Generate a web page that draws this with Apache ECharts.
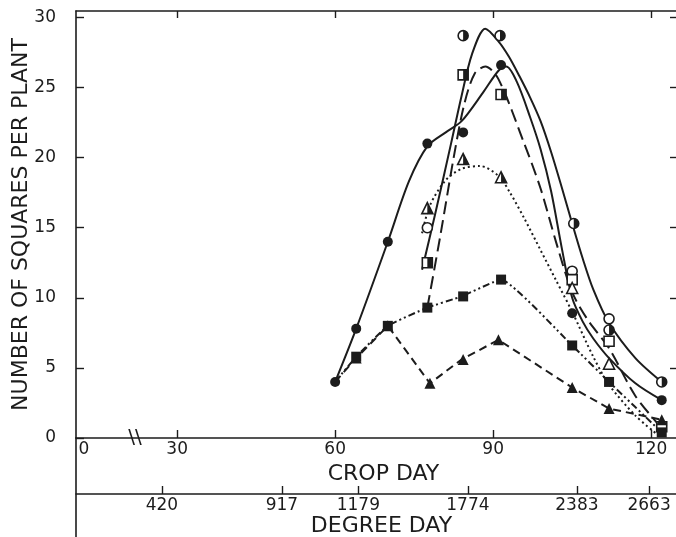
<!DOCTYPE html>
<html><head><meta charset="utf-8">
<script src="https://cdn.jsdelivr.net/npm/echarts@6/dist/echarts.min.js"></script>
<style>html,body{margin:0;padding:0;background:#fff}#c{width:676px;height:537px}</style>
</head><body><div id="c"></div>
<script>
// ---------- axes / ticks ----------
const X_MIN = 10.8, X_MAX = 124.9;      // crop-day display range (axis broken below 30)
const Y_MAX = 30.46;
const yTicks = [0, 5, 10, 15, 20, 25, 30];
const yRightTicks = [5, 10, 15, 20, 25, 30];
const cropTickPos = [30, 60, 90, 120];
const cropLabelPos = [12.3, 30, 60, 90, 120];
const cropLabelText = ['0', '30', '60', '90', '120'];
const breakPos = 22;
const degreeDayPos = [27.1, 49.9, 64.4, 85.2, 105.9, 119.6];
const degreeDayText = ['420', '917', '1179', '1774', '2383', '2663'];

// ---------- fitted curves ----------
const curveFilledCircle = [[60,4.0],[64,7.8],[70,14.0],[74,18.3],[77.5,20.8],[81,21.8],[84,22.6],[88,24.6],[91,26.2],[92.5,26.5],[94.5,25.4],[97,22.9],[99,20.6],[101,17.6],[103,13.6],[105,10.0],[107,8.3],[109,7.1],[112,5.7],[117,3.9],[122,2.7]];
const curveHalfCircle = [[76.5,12.0],[79,16.0],[82,21.0],[84,24.4],[86,27.4],[88.5,29.2],[91,28.3],[93,27.2],[95,25.8],[97,24.3],[99,22.6],[101,20.4],[103,17.9],[105,15.3],[107,12.8],[109,10.6],[112,8.2],[117,5.7],[122,4.0]];
const curveHalfSquare = [[77.5,9.3],[80,14.5],[82.5,20.0],[84.5,23.8],[86.5,26.0],[88.5,26.5],[91,25.6],[95.7,21.2],[99,17.8],[102,13.9],[105,10.4],[108,8.4],[112,6.4],[117,3.0],[122,0.7]];
const curveHalfTriangle = [[76.5,14.6],[78,16.6],[81,18.4],[84,19.2],[87.5,19.4],[91,18.7],[93.2,17.5],[96,15.6],[99,13.4],[102,11.2],[105,9.0],[109,5.8],[112,3.8],[117,1.6],[121,0.3]];
const lineFilledSquare = [[60,4.0],[64,5.8],[70,8.0],[77.5,9.3],[84,10.1],[91.5,11.3],[105,6.6],[112,4.0],[122,0.4]];
const lineFilledTriangle = [[60,4.0],[64,5.7],[70,8.0],[78,3.9],[84,5.6],[91,7.0],[105,3.6],[112,2.1],[122,1.3]];

// ---------- observed points ----------
const ptFilledCircle = [[60,4.0],[64,7.8],[70,14.0],[77.5,21.0],[84.3,21.8],[91.5,26.6],[105,8.9],[122,2.7]];
const ptHalfCircle = [[84.3,28.7],[91.3,28.7],[105.3,15.3],[112,7.7],[122,4.0]];
const ptHalfSquare = [[77.5,12.5],[84.3,25.9],[91.5,24.5]];
const ptHalfTriangle = [[77.5,16.4],[84.3,19.9],[91.5,18.6]];
const ptOpenCircle = [[77.5,15.0],[105,11.9],[112,8.5]];
const ptOpenSquare = [[105,11.3],[112,6.9],[122,0.8]];
const ptOpenTriangle = [[105,10.7],[112,5.3]];
const ptFilledSquare = [[64,5.8],[70,8.0],[77.5,9.3],[84.3,10.1],[91.5,11.3],[105,6.6],[112,4.0],[122,0.4]];
const ptFilledTriangle = [[64,5.7],[70,8.0],[78,3.9],[84.3,5.6],[91,7.0],[105,3.6],[112,2.1],[122,1.3]];

const ink = '#1c1c1c';
const FONT = 'DejaVu Sans';
const HALF_CIRCLE = 'path://M0,10 M10,0 A10,10 0 0 1 10,20 Z';
const HALF_SQUARE = 'path://M0,0 M10,0 L20,0 L20,20 L10,20 Z';
const HALF_TRIANGLE = 'path://M0,20 M10,0 L20,20 L10,20 Z';

function curve(data, type, smooth) {
  return {type:'line', data, smooth: smooth, symbol:'none', silent:true, z:2,
    lineStyle:{color:ink, width:2, type:type, cap:'butt'}};
}
function filled(data, symbol, size) {
  return {type:'scatter', data, symbol, symbolSize:size, z:5, itemStyle:{color:ink, opacity:1}};
}
function open(data, symbol, size) {
  return {type:'scatter', data, symbol, symbolSize:size, z:5,
    itemStyle:{color:'#fff', borderColor:ink, borderWidth:1.6, opacity:1}};
}
function half(data, path, size) {
  return {type:'scatter', data, symbol:path, symbolSize:size, z:6, itemStyle:{color:ink, borderWidth:0, opacity:1}};
}

const axisLineStyle = {color:ink, width:1.6};
const chart = echarts.init(document.getElementById('c'));
chart.setOption({
  backgroundColor:'#fff',
  animation:false,
  textStyle:{fontFamily:FONT, color:ink},
  grid:[{left:76, top:11, width:601, height:427, outerBoundsMode:'none', containLabel:false},
        {left:76, top:438, width:601, height:99, outerBoundsMode:'none', containLabel:false}],
  xAxis:[
    {gridIndex:0, type:'value', position:'bottom', min:X_MIN, max:X_MAX,
      axisLine:{onZero:false, lineStyle:axisLineStyle},
      axisTick:{inside:true, length:8, customValues:cropTickPos, lineStyle:{color:ink, width:1.4}},
      axisLabel:{customValues:cropLabelPos, color:ink, fontSize:17, margin:3, fontFamily:FONT,
        formatter:v => cropLabelText[cropLabelPos.indexOf(v)] ?? ''},
      splitLine:{show:false},
      name:'CROP DAY', nameLocation:'middle', nameGap:19,
      nameTextStyle:{fontSize:22, color:ink, fontFamily:FONT, padding:[0,0,0,14]}},
    {gridIndex:0, type:'value', position:'top', min:X_MIN, max:X_MAX,
      axisLine:{onZero:false, lineStyle:axisLineStyle},
      axisTick:{inside:true, length:7, customValues:cropTickPos, lineStyle:{color:ink, width:1.4}},
      axisLabel:{show:false}, splitLine:{show:false}},
    {gridIndex:1, type:'value', position:'bottom', offset:-43, min:X_MIN, max:X_MAX,
      axisLine:{onZero:false, lineStyle:axisLineStyle},
      axisTick:{inside:true, length:8, customValues:degreeDayPos, lineStyle:{color:ink, width:1.4}},
      axisLabel:{customValues:degreeDayPos, color:ink, fontSize:17, margin:3, fontFamily:FONT,
        formatter:v => degreeDayText[degreeDayPos.indexOf(v)] ?? ''},
      splitLine:{show:false},
      name:'DEGREE DAY', nameLocation:'middle', nameGap:21,
      nameTextStyle:{fontSize:22, color:ink, fontFamily:FONT, padding:[0,0,0,10]}}
  ],
  yAxis:[
    {gridIndex:0, type:'value', position:'left', min:0, max:Y_MAX,
      axisLine:{show:true, onZero:false, lineStyle:axisLineStyle},
      axisTick:{show:true, inside:true, length:8, customValues:yTicks, lineStyle:{color:ink, width:1.4}},
      axisLabel:{customValues:yTicks, color:ink, fontSize:17, margin:20, fontFamily:FONT},
      splitLine:{show:false},
      name:'NUMBER OF SQUARES PER PLANT', nameLocation:'middle', nameGap:44, nameRotate:90,
      nameMoveOverlap:false,
      nameTextStyle:{fontSize:22, color:ink, fontFamily:FONT}},
    {gridIndex:0, type:'value', position:'right', min:0, max:Y_MAX,
      axisLine:{show:false, onZero:false},
      axisTick:{show:true, inside:true, length:7, customValues:yRightTicks, lineStyle:{color:ink, width:1.4}},
      axisLabel:{show:false}, splitLine:{show:false}},
    {gridIndex:1, type:'value', min:0, max:1,
      axisLine:{show:true, onZero:false, lineStyle:axisLineStyle},
      axisTick:{show:false}, axisLabel:{show:false}, splitLine:{show:false}}
  ],
  series:[
    curve(curveFilledCircle, 'solid', 0.3),
    curve(curveHalfCircle, 'solid', 0.3),
    curve(curveHalfSquare, [13, 6], 0.3),
    curve(curveHalfTriangle, [2, 3], 0.3),
    curve(lineFilledSquare, [7, 3, 2, 3, 2, 3], 0.12),
    curve(lineFilledTriangle, [8, 5], false),
    open(ptOpenCircle, 'circle', 10),
    open(ptOpenSquare, 'rect', 10),
    open(ptOpenTriangle, 'triangle', 11),
    open(ptHalfCircle, 'circle', 10),
    half(ptHalfCircle, HALF_CIRCLE, 10),
    open(ptHalfSquare, 'rect', 10),
    half(ptHalfSquare, HALF_SQUARE, 10),
    open(ptHalfTriangle, 'triangle', 11),
    half(ptHalfTriangle, HALF_TRIANGLE, 11),
    filled(ptFilledCircle, 'circle', 10),
    filled(ptFilledSquare, 'rect', 10),
    filled(ptFilledTriangle, 'triangle', 11)
  ]
});
const bp = chart.convertToPixel({xAxisIndex:0, yAxisIndex:0}, [breakPos, 0]);
chart.setOption({graphic:[{type:'text', x:bp[0], y:bp[1], z:10,
  style:{text:'\\\\', font:'20px ' + FONT, fill:ink, align:'center', verticalAlign:'middle'}}]});
</script></body></html>
